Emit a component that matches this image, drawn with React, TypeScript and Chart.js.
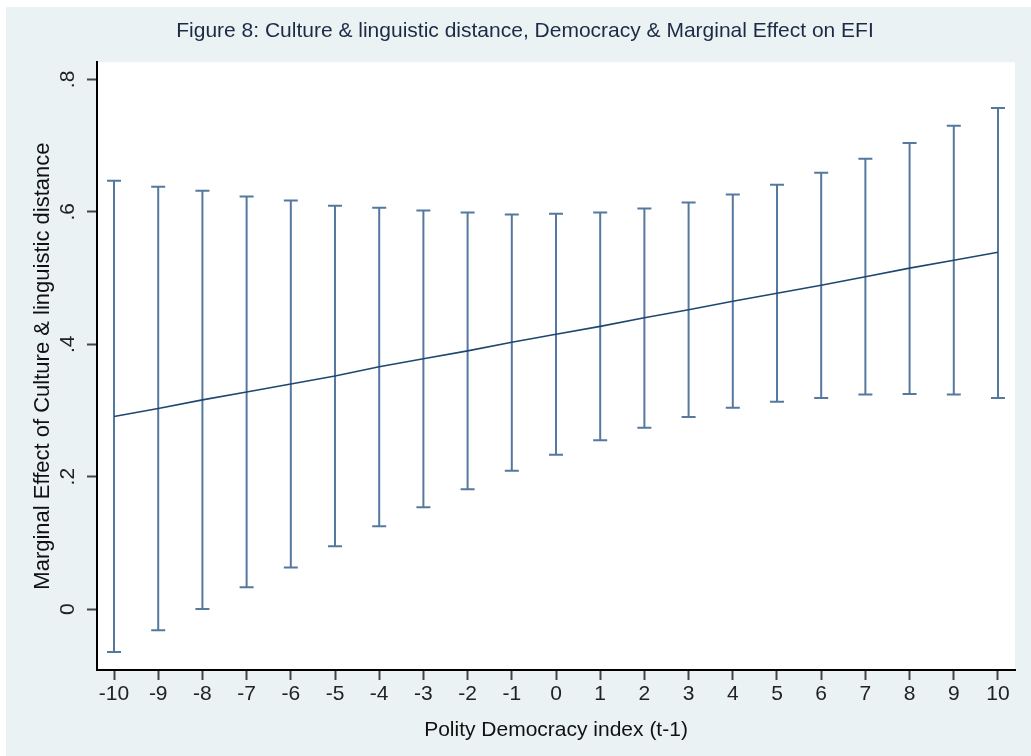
import React, { useEffect, useRef } from 'react';
import { Chart, registerables } from 'chart.js';

Chart.register(...registerables);

// Polity Democracy index (t-1)
const xValues = [-10, -9, -8, -7, -6, -5, -4, -3, -2, -1, 0, 1, 2, 3, 4, 5, 6, 7, 8, 9, 10];
// Marginal effect (point estimate)
const meanEffect = [0.291, 0.303, 0.316, 0.328, 0.340, 0.352, 0.366, 0.378, 0.390, 0.403, 0.415, 0.427, 0.440, 0.452, 0.465, 0.477, 0.489, 0.502, 0.515, 0.527, 0.539];
// Lower and upper confidence bounds
const lowerBound = [-0.065, -0.032, 0.000, 0.033, 0.063, 0.095, 0.125, 0.154, 0.181, 0.209, 0.233, 0.255, 0.274, 0.290, 0.304, 0.313, 0.319, 0.324, 0.325, 0.324, 0.319];
const upperBound = [0.647, 0.638, 0.632, 0.623, 0.617, 0.609, 0.606, 0.602, 0.599, 0.596, 0.597, 0.599, 0.605, 0.614, 0.626, 0.641, 0.659, 0.680, 0.704, 0.730, 0.757];

const yTickValues = [0, 0.2, 0.4, 0.6, 0.8];
const yTickLabels = ['0', '.2', '.4', '.6', '.8'];

const titleText = 'Figure 8: Culture & linguistic distance, Democracy & Marginal Effect on EFI';
const xTitle = 'Polity Democracy index (t-1)';
const yTitle = 'Marginal Effect of Culture & linguistic distance';

const FONT = "'Liberation Sans', Arial, Helvetica, sans-serif";
const BAR_COLOR = '#55789e';
const LINE_COLOR = '#1f4770';

const plotBackground = {
  id: 'plotBackground',
  beforeDraw(chart: any) {
    const { ctx, chartArea } = chart;
    if (!chartArea) return;
    ctx.save();
    ctx.fillStyle = '#ffffff';
    ctx.fillRect(chartArea.left, chartArea.top, chartArea.right - chartArea.left, chartArea.bottom - chartArea.top);
    ctx.restore();
  },
};

export default function App() {
  const canvasRef = useRef<HTMLCanvasElement | null>(null);

  useEffect(() => {
    if (!canvasRef.current) return;
    // whiskers: one segment per x value (lower -> upper), separated by gaps
    const whiskerData: any[] = [];
    xValues.forEach((x, i) => {
      whiskerData.push({ x, y: lowerBound[i] });
      whiskerData.push({ x, y: upperBound[i] });
      whiskerData.push({ x, y: null });
    });
    const chart = new Chart(canvasRef.current, {
      type: 'line',
      data: {
        datasets: [
          {
            data: xValues.map((x, i) => ({ x, y: meanEffect[i] })),
            borderColor: LINE_COLOR,
            borderWidth: 1.6,
            pointRadius: 0,
            tension: 0,
            order: 0,
          },
          {
            data: xValues.map((x, i) => ({ x, y: upperBound[i] })),
            showLine: false,
            pointStyle: 'line',
            pointRadius: 7,
            pointBorderWidth: 2,
            pointBorderColor: BAR_COLOR,
            pointBackgroundColor: BAR_COLOR,
            order: 1,
          },
          {
            data: xValues.map((x, i) => ({ x, y: lowerBound[i] })),
            showLine: false,
            pointStyle: 'line',
            pointRadius: 7,
            pointBorderWidth: 2,
            pointBorderColor: BAR_COLOR,
            pointBackgroundColor: BAR_COLOR,
            order: 1,
          },
          {
            data: whiskerData,
            borderColor: BAR_COLOR,
            borderWidth: 2,
            pointRadius: 0,
            spanGaps: false,
            tension: 0,
            order: 2,
          },
        ],
      },
      options: {
        animation: false,
        responsive: true,
        maintainAspectRatio: false,
        layout: { padding: { left: 29, right: 16, top: 0, bottom: 0 } },
        plugins: {
          legend: { display: false },
          tooltip: { enabled: false },
          title: {
            display: true,
            text: titleText,
            color: '#1c2a46',
            font: { family: FONT, size: 21, weight: 'normal' },
            padding: { top: 12, bottom: 18 },
          },
        },
        scales: {
          x: {
            type: 'linear',
            min: -10.385,
            max: 10.385,
            offset: false,
            afterBuildTicks: (scale: any) => {
              scale.ticks = xValues.map((v) => ({ value: v }));
            },
            afterFit: (scale: any) => {
              scale.height = 86;
            },
            ticks: {
              color: '#222',
              font: { family: FONT, size: 21 },
              padding: 2,
              maxRotation: 0,
              minRotation: 0,
              autoSkip: false,
              callback: (v: any) => String(v),
            },
            grid: {
              display: true,
              offset: false,
              drawOnChartArea: false,
              drawTicks: true,
              tickLength: 10,
              tickColor: '#444',
              tickWidth: 2,
            },
            border: { display: true, color: '#000', width: 2 },
            title: {
              display: true,
              text: xTitle,
              color: '#111',
              font: { family: FONT, size: 21 },
              padding: { top: 0, bottom: 13 },
            },
          },
          y: {
            type: 'linear',
            min: -0.092,
            max: 0.826,
            afterBuildTicks: (scale: any) => {
              scale.ticks = yTickValues.map((v) => ({ value: v }));
            },
            afterFit: (scale: any) => {
              scale.width = 62;
            },
            ticks: {
              color: '#222',
              font: { family: FONT, size: 21 },
              padding: 10,
              minRotation: 90,
              maxRotation: 90,
              crossAlign: 'center',
              autoSkip: false,
              callback: (v: any) => {
                const idx = yTickValues.findIndex((t) => Math.abs(t - v) < 1e-9);
                return idx >= 0 ? yTickLabels[idx] : '';
              },
            },
            grid: {
              display: true,
              offset: false,
              drawOnChartArea: false,
              drawTicks: true,
              tickLength: 10,
              tickColor: '#444',
              tickWidth: 2,
            },
            border: { display: true, color: '#000', width: 2 },
            title: {
              display: true,
              text: yTitle,
              color: '#111',
              font: { family: FONT, size: 22 },
              padding: { top: -5, bottom: 0 },
            },
          },
        },
      },
      plugins: [plotBackground],
    } as any);
    return () => chart.destroy();
  }, []);

  return (
    <div style={{ position: 'fixed', left: 0, top: 0, width: 1031, height: 756, background: '#ffffff' }}>
      <div style={{ position: 'absolute', left: 6, top: 7, width: 1025, height: 749, background: '#eaf2f3' }}>
        <canvas ref={canvasRef} />
      </div>
    </div>
  );
}
